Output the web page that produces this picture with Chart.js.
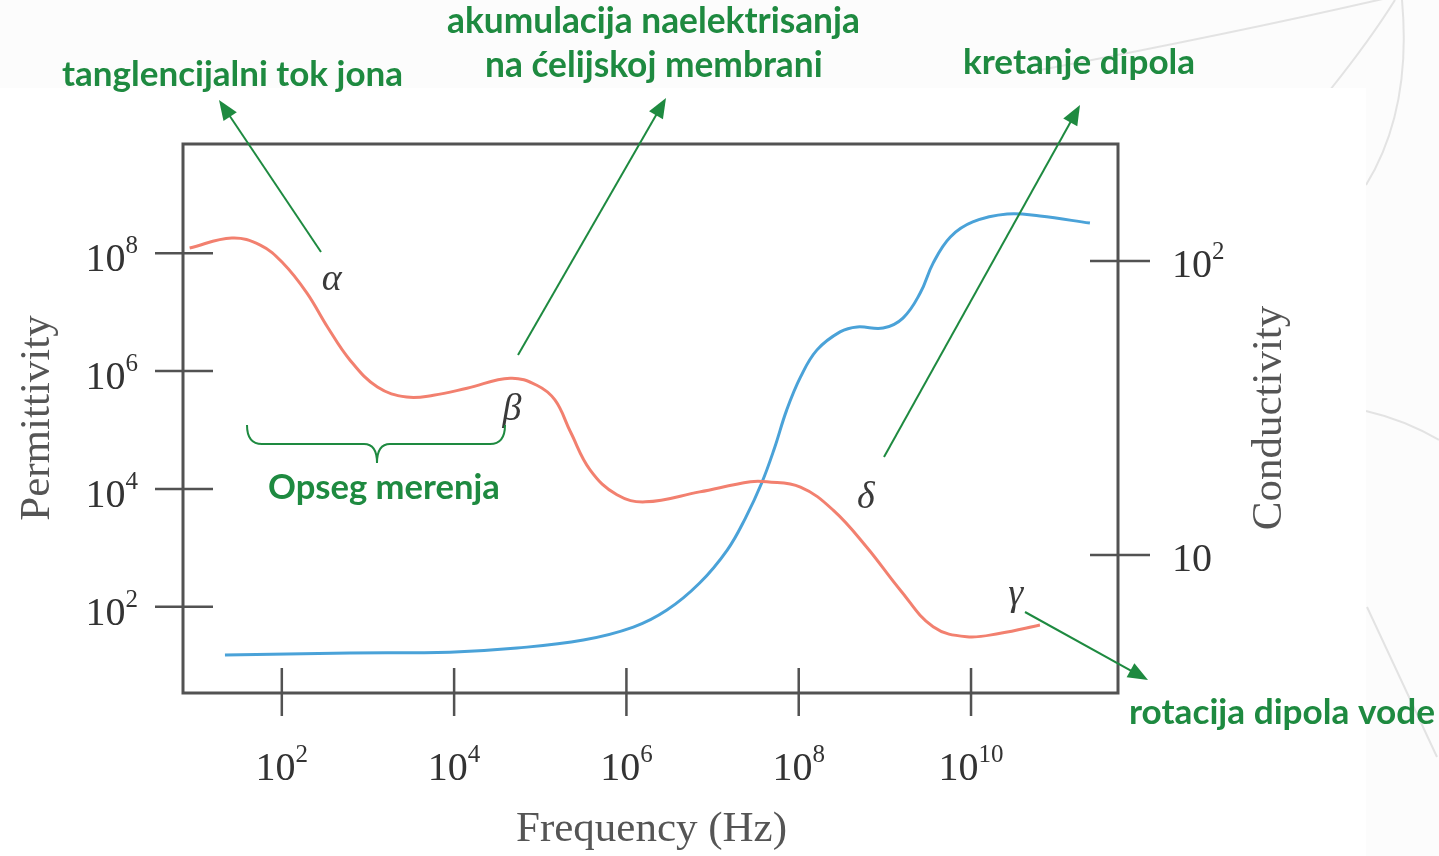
<!DOCTYPE html>
<html>
<head>
<meta charset="utf-8">
<script src="https://cdn.jsdelivr.net/npm/chart.js@4.4.1/dist/chart.umd.min.js"></script>
<style>
  html, body { margin: 0; padding: 0; background: #fcfcfc; }
  canvas { display: block; }
</style>
</head>
<body>
<canvas id="chart" width="1439" height="856"></canvas>
<script>
// sve vrednosti su log10 (frekvencija, permitivnost, provodnost)
const freqTickExp = [2, 4, 6, 8, 10];
const permTickExp = [2, 4, 6, 8];
const condTickExp = [1, 2];

// permitivnost (crvena)
const logFreqPerm = [0.93, 1.42, 1.75, 2.01, 2.29, 2.53, 2.79, 3.11, 3.45, 3.76, 4.15, 4.65, 4.96, 5.17,
  5.35, 5.58, 5.89, 6.22, 6.85, 7.44, 7.63, 8.02, 8.40, 8.79, 9.18, 9.56, 9.95, 10.34, 10.80];
const logPermittivity = [8.09, 8.26, 8.14, 7.84, 7.33, 6.75, 6.19, 5.73, 5.56, 5.59, 5.71, 5.88, 5.76, 5.51,
  4.97, 4.32, 3.90, 3.78, 3.95, 4.12, 4.12, 4.03, 3.64, 3.01, 2.28, 1.66, 1.49, 1.55, 1.69];

// provodnost (plava)
const logFreqCond = [1.34, 2.79, 3.95, 4.73, 5.50, 6.08, 6.47, 6.85, 7.17, 7.38, 7.57, 7.72, 7.86, 8.02,
  8.21, 8.48, 8.68, 8.98, 9.21, 9.41, 9.56, 9.76, 10.02, 10.42, 10.80, 11.38];
const logConductivity = [0.660, 0.667, 0.670, 0.684, 0.711, 0.755, 0.813, 0.905, 1.017, 1.125, 1.245, 1.365,
  1.493, 1.605, 1.697, 1.759, 1.776, 1.772, 1.806, 1.891, 1.993, 2.082, 2.133, 2.160, 2.153, 2.129];

// grcka slova na krivoj
const greekLabels = ['α', 'β', 'δ', 'γ'];
const greekFreq = [2.58, 4.67, 8.78, 10.52];
const greekPerm = [7.55, 5.34, 3.85, 2.20];

const GREEN = '#1e8a40';
const SERIF = '"Liberation Serif", "DejaVu Serif", serif';

function toPoints(xs, ys) {
  return xs.map((v, i) => ({ x: v, y: ys[i] }));
}

function drawPow(ctx, exp, x, baseY, align) {
  const sup = exp === 1 ? '' : String(exp);
  ctx.font = '40px ' + SERIF;
  const wb = ctx.measureText('10').width;
  ctx.font = '25px ' + SERIF;
  const ws = sup ? ctx.measureText(sup).width : 0;
  const total = wb + ws;
  let sx = x;
  if (align === 'right') sx = x - total;
  if (align === 'center') sx = x - total / 2;
  ctx.textAlign = 'left';
  ctx.textBaseline = 'alphabetic';
  ctx.font = '40px ' + SERIF;
  ctx.fillText('10', sx, baseY);
  if (sup) {
    ctx.font = '25px ' + SERIF;
    ctx.fillText(sup, sx + wb, baseY - 18);
  }
}

function arrow(ctx, x1, y1, x2, y2) {
  const a = Math.atan2(y2 - y1, x2 - x1);
  const len = 20, half = 8;
  ctx.beginPath();
  ctx.moveTo(x1, y1);
  ctx.lineTo(x2 - Math.cos(a) * len * 0.8, y2 - Math.sin(a) * len * 0.8);
  ctx.stroke();
  ctx.beginPath();
  ctx.moveTo(x2, y2);
  ctx.lineTo(x2 - Math.cos(a) * len - Math.sin(a) * half, y2 - Math.sin(a) * len + Math.cos(a) * half);
  ctx.lineTo(x2 - Math.cos(a) * len + Math.sin(a) * half, y2 - Math.sin(a) * len - Math.cos(a) * half);
  ctx.closePath();
  ctx.fill();
}

function fitText(ctx, txt, x1, x2, cy) {
  ctx.font = 'bold 30px Lato';
  const w = ctx.measureText(txt).width;
  const size = 30 * (x2 - x1) / w;
  ctx.font = 'bold ' + size.toFixed(1) + 'px Lato';
  ctx.textAlign = 'left';
  ctx.textBaseline = 'middle';
  ctx.fillText(txt, x1, cy);
}

// pozadina slajda i bela slika
const backdrop = {
  id: 'backdrop',
  beforeDraw(chart) {
    const ctx = chart.ctx;
    ctx.save();
    ctx.fillStyle = '#fcfcfc';
    ctx.fillRect(0, 0, chart.width, chart.height);
    ctx.strokeStyle = '#e3e3e3';
    ctx.lineWidth = 2;
    ctx.beginPath();
    ctx.moveTo(1040, 70); ctx.quadraticCurveTo(1250, 30, 1400, -5);
    ctx.moveTo(1330, 90); ctx.quadraticCurveTo(1370, 40, 1395, 0);
    ctx.moveTo(1402, 0); ctx.quadraticCurveTo(1412, 110, 1366, 185);
    ctx.moveTo(1366, 411); ctx.quadraticCurveTo(1405, 420, 1439, 440);
    ctx.moveTo(1367, 607); ctx.lineTo(1437, 757);
    ctx.stroke();
    ctx.fillStyle = '#ffffff';
    ctx.fillRect(0, 88, 1366, 768);
    ctx.restore();
  }
};

const axesDraw = {
  id: 'axesDraw',
  afterDatasetsDraw(chart) {
    const ctx = chart.ctx;
    const a = chart.chartArea;
    const sx = chart.scales.x, sy = chart.scales.y, sy2 = chart.scales.y2;
    ctx.save();

    // okvir
    ctx.strokeStyle = '#525252';
    ctx.lineWidth = 3;
    ctx.strokeRect(a.left, a.top, a.right - a.left, a.bottom - a.top);

    // podeoci
    ctx.lineWidth = 2.5;
    ctx.beginPath();
    permTickExp.forEach(v => {
      const py = sy.getPixelForValue(v);
      ctx.moveTo(a.left - 28, py); ctx.lineTo(a.left + 30, py);
    });
    freqTickExp.forEach(v => {
      const px = sx.getPixelForValue(v);
      ctx.moveTo(px, a.bottom - 25); ctx.lineTo(px, a.bottom + 23);
    });
    condTickExp.forEach(v => {
      const py = sy2.getPixelForValue(v);
      ctx.moveTo(a.right - 28, py); ctx.lineTo(a.right + 32, py);
    });
    ctx.stroke();

    // oznake
    ctx.fillStyle = '#333333';
    permTickExp.forEach(v => drawPow(ctx, v, a.left - 45, sy.getPixelForValue(v) + 18, 'right'));
    freqTickExp.forEach(v => drawPow(ctx, v, sx.getPixelForValue(v), a.bottom + 87, 'center'));
    condTickExp.forEach(v => drawPow(ctx, v, a.right + 54, sy2.getPixelForValue(v) + 16, 'left'));

    // nazivi osa
    ctx.fillStyle = '#555555';
    ctx.font = '43px ' + SERIF;
    ctx.textAlign = 'center';
    ctx.textBaseline = 'middle';
    ctx.fillText('Frequency (Hz)', (a.left + a.right) / 2 + 1, 830);
    ctx.save();
    ctx.translate(38, 418);
    ctx.rotate(-Math.PI / 2);
    ctx.fillText('Permittivity', 0, 0);
    ctx.restore();
    ctx.save();
    ctx.translate(1270, 418);
    ctx.rotate(-Math.PI / 2);
    ctx.fillText('Conductivity', 0, 0);
    ctx.restore();

    // grcka slova
    ctx.fillStyle = '#3a3a3a';
    ctx.font = 'italic 38px ' + SERIF;
    greekLabels.forEach((g, i) => {
      ctx.fillText(g, sx.getPixelForValue(greekFreq[i]), sy.getPixelForValue(greekPerm[i]));
    });

    // anotacije
    ctx.fillStyle = GREEN;
    ctx.strokeStyle = GREEN;
    ctx.lineWidth = 2;
    fitText(ctx, 'tanglencijalni tok jona', 62, 403, 75);
    fitText(ctx, 'akumulacija naelektrisanja', 447, 860, 22);
    fitText(ctx, 'na ćelijskoj membrani', 485, 823, 66);
    fitText(ctx, 'kretanje dipola', 963, 1195, 63);
    fitText(ctx, 'Opseg merenja', 268, 500, 488);
    fitText(ctx, 'rotacija dipola vode', 1129, 1435, 713);

    arrow(ctx, 321, 252, 219, 100);
    arrow(ctx, 518, 355, 666, 98);
    arrow(ctx, 884, 457, 1080, 105);
    arrow(ctx, 1025, 612, 1148, 680);

    // zagrada
    ctx.beginPath();
    ctx.moveTo(247, 425);
    ctx.quadraticCurveTo(247, 444, 262, 444);
    ctx.lineTo(364, 444);
    ctx.quadraticCurveTo(377, 444, 377, 463);
    ctx.quadraticCurveTo(377, 444, 390, 444);
    ctx.lineTo(490, 444);
    ctx.quadraticCurveTo(505, 444, 505, 425);
    ctx.stroke();

    ctx.restore();
  }
};

new Chart(document.getElementById('chart'), {
  type: 'line',
  data: {
    datasets: [
      {
        label: 'Permittivity',
        data: toPoints(logFreqPerm, logPermittivity),
        yAxisID: 'y',
        borderColor: '#f2806f',
        borderWidth: 3,
        tension: 0.4,
        pointRadius: 0,
        fill: false
      },
      {
        label: 'Conductivity',
        data: toPoints(logFreqCond, logConductivity),
        yAxisID: 'y2',
        borderColor: '#4aa2d8',
        borderWidth: 3,
        tension: 0.4,
        pointRadius: 0,
        fill: false
      }
    ]
  },
  options: {
    responsive: false,
    animation: false,
    devicePixelRatio: 1,
    layout: { padding: { left: 183, top: 144, right: 1439 - 1118, bottom: 856 - 693 } },
    plugins: { legend: { display: false }, tooltip: { enabled: false } },
    scales: {
      x: { type: 'linear', min: 0.853, max: 11.706, display: false },
      y: { type: 'linear', min: 0.535, max: 9.856, display: false },
      y2: { type: 'linear', position: 'right', min: 0.531, max: 2.398, display: false }
    }
  },
  plugins: [backdrop, axesDraw]
});
</script>
</body>
</html>
